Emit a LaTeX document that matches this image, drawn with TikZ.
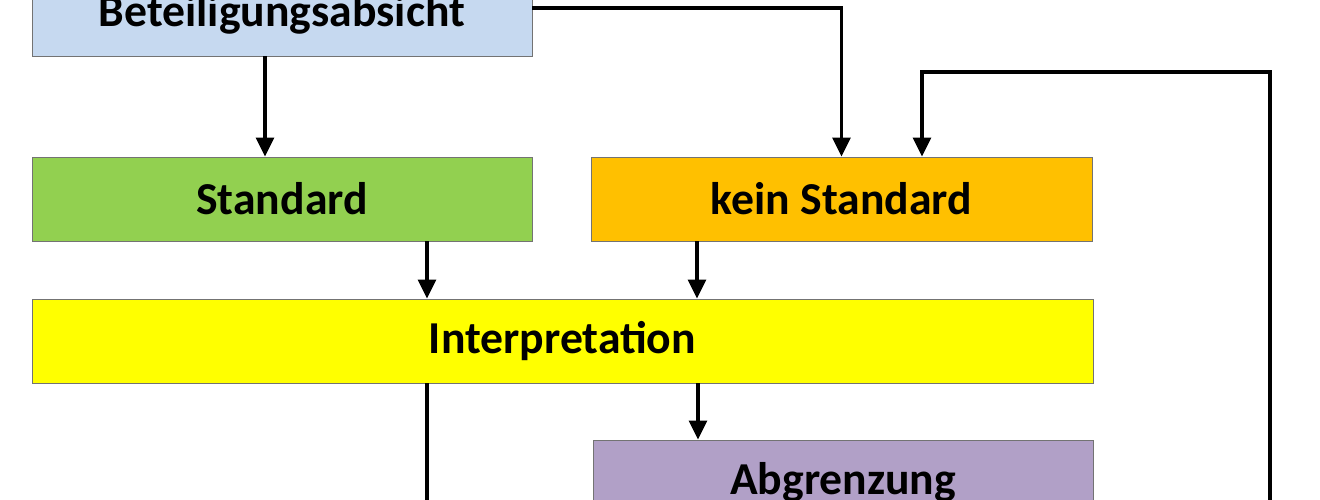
\documentclass[tikz,border=0pt]{standalone}
\usepackage{fontspec}
\setmainfont{Carlito}
\usepackage{tikz}
\usetikzlibrary{arrows.meta}

\begin{document}
\begin{tikzpicture}[
    box/.style={draw=black!55,line width=0.5pt,minimum height=1.68cm,inner sep=0pt,font=\fontsize{26}{31}\selectfont\bfseries},
    arr/.style={line width=1.8pt,-{Triangle[length=0.38cm,width=0.36cm]}}
  ]
    \useasboundingbox (0,0) rectangle (26.4,-10);
    \node[box,fill={rgb,255:red,198;green,217;blue,240},minimum width=10cm] (bet) at (5.64,-0.28) {Beteiligungsabsicht};
    \node[box,fill={rgb,255:red,146;green,208;blue,80},minimum width=10cm] (std) at (5.64,-3.98) {Standard};
    \node[box,fill={rgb,255:red,255;green,192;blue,0},minimum width=10.02cm] (kstd) at (16.83,-3.98) {kein Standard};
    \node[box,fill={rgb,255:red,255;green,255;blue,0},minimum width=21.22cm] (interp) at (11.25,-6.82) {Interpretation};
    \node[box,fill={rgb,255:red,177;green,160;blue,199},minimum width=10cm] (abgr) at (16.86,-9.64) {Abgrenzung};
    \coordinate (fb) at (25.4,-10);
    \coordinate (fbtop) at (25.4,-1.44);
    \coordinate (down) at (8.54,-10);
    \draw[arr] ([xshift=-0.34cm]bet.south) -- ([xshift=-0.34cm]std.north);
    \draw[arr] ([yshift=0.12cm]bet.east) -| (kstd.north);
    \draw[arr] (fb) -- (fbtop) -| ([xshift=1.61cm]kstd.north);
    \draw[arr] ([xshift=2.9cm]std.south) -- ([xshift=2.9cm]std.south |- interp.north);
    \draw[arr] ([xshift=-2.89cm]kstd.south) -- ([xshift=-2.89cm]kstd.south |- interp.north);
    \draw[line width=1.8pt] (interp.south -| down) -- (down);
    \draw[arr] ([xshift=-2.9cm]abgr.north |- interp.south) -- ([xshift=-2.9cm]abgr.north);
\end{tikzpicture}
\end{document}
